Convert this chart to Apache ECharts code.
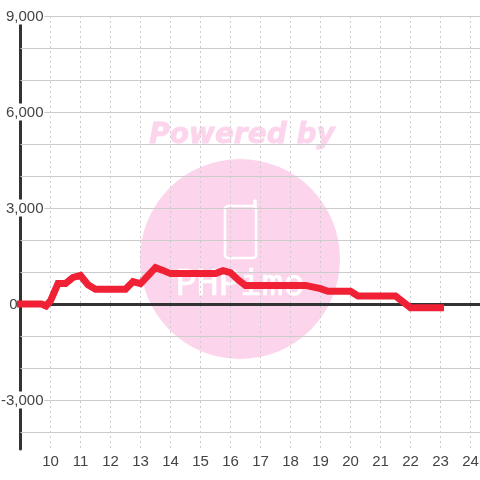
<!DOCTYPE html>
<html><head><meta charset="utf-8">
<style>html,body{margin:0;padding:0;background:#fff}#c{width:480px;height:480px}</style>
<script src="https://cdn.jsdelivr.net/npm/echarts@6/dist/echarts.min.js"></script>
</head><body><div id="c"></div>
<script>
const hours = [9,9.7,9.85,10,10.25,10.5,10.75,11,11.25,11.5,12,12.5,12.75,13,13.5,13.75,14,15.5,15.75,16,16.25,16.5,18.5,19,19.25,20,20.25,21.5,22,23];
const values = [0,0,-60,100,640,640,830,890,600,460,460,460,700,640,1140,1050,950,950,1040,980,760,580,580,480,400,400,250,250,-120,-120];
const labelledValues = [-3000,0,3000,6000,9000];
const xMax = 24 + 1/3;
const ink='#444', dark='#333', grid='#ccc', red='#f02035';
const chart = echarts.init(document.getElementById('c'),null,{renderer:'canvas'});
const font="'Liberation Sans',Arial,sans-serif";
chart.setOption({
  animation:false,
  backgroundColor:'#fff',
  graphic:[
    {type:'circle',z:-10,shape:{cx:240,cy:259,r:100},style:{fill:'#fcd5ed'}},
    {type:'text',z:-10,x:242,y:136,style:{text:'Powered by',fill:'#fcd5ed',stroke:'#fcd5ed',lineWidth:0.8,font:"italic bold 28px 'DejaVu Sans'",align:'center',verticalAlign:'middle'}},
    {type:'rect',z:-9,shape:{x:225,y:206,width:31,height:52,r:3},style:{fill:'none',stroke:'#fff',lineWidth:2.5}},
    {type:'line',z:-9,shape:{x1:255,y1:206,x2:255,y2:201},style:{stroke:'#fff',lineWidth:3.5,lineCap:'round'}},
    {type:'text',z:-9,x:240,y:304,style:{text:'PHPimo',fill:'#fff',stroke:'#fff',lineWidth:0.5,font:"36px 'DejaVu Sans Mono'",align:'center',verticalAlign:'bottom'}}
  ],
  grid:[
    {left:20.5,top:16,width:460,height:448,outerBoundsMode:'none'},
    {left:20.5,top:16,width:460,height:432,outerBoundsMode:'none'},
    {left:20.5,top:24,width:460,height:425,outerBoundsMode:'none'}
  ],
  xAxis:[
    {type:'value',gridIndex:0,min:9,max:xMax,interval:1,z:7,
     axisLine:{show:true,onZero:true,lineStyle:{color:dark,width:3}},axisTick:{show:false},axisLabel:{show:false},splitLine:{show:false}},
    {type:'value',gridIndex:1,min:9,max:xMax,interval:1,position:'bottom',
     axisLine:{show:false,onZero:false},axisTick:{show:false},
     axisLabel:{show:true,margin:6,color:ink,fontSize:15,fontFamily:font,showMinLabel:false,showMaxLabel:false},
     splitLine:{show:true,showMinLine:false,showMaxLine:false,lineStyle:{color:grid,width:1,type:[2,3]}}},
    {type:'value',gridIndex:2,min:9,max:xMax,show:false}
  ],
  yAxis:[
    {type:'value',gridIndex:0,min:-5000,max:9000,interval:1000,z:6,
     axisLine:{show:false},axisTick:{show:false},
     splitLine:{show:true,showMinLine:false,lineStyle:{color:grid,width:1}},
     axisLabel:{show:true,margin:-24,color:ink,fontSize:15,fontFamily:font,
       formatter:v=>{
         if(v===0) return '{z|0}';
         if(!labelledValues.includes(v)) return '';
         return '{w|'+v.toLocaleString('en-US')+'}';
       },
       rich:{
         z:{color:ink,fontSize:15,fontFamily:font,padding:[2,27,0,0]},
         w:{color:ink,fontSize:15,fontFamily:font,backgroundColor:'#fff',padding:[2,1,0,2]}
       }}},
    {type:'value',gridIndex:1,min:-4500,max:9000,show:false},
    {type:'value',gridIndex:2,min:-4500,max:8750,interval:13250,z:3,
     axisLine:{show:true,onZero:false,lineStyle:{color:dark,width:3}},axisTick:{show:false},axisLabel:{show:false},splitLine:{show:false}}
  ],
  series:[{
    type:'line',xAxisIndex:0,yAxisIndex:0,z:8,clip:false,silent:true,
    data:hours.map((h,i)=>[h,values[i]]),
    showSymbol:false,symbol:'none',
    lineStyle:{color:red,width:7,cap:'square',join:'miter'}
  }]
});
</script></body></html>
